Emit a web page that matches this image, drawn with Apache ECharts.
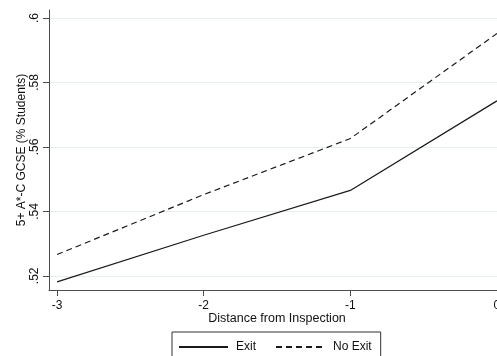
<!DOCTYPE html>
<html>
<head>
<meta charset="utf-8">
<script src="https://cdn.jsdelivr.net/npm/echarts@6/dist/echarts.min.js"></script>
<style>
  html, body { margin: 0; padding: 0; overflow: hidden; background: #fff; width: 497px; height: 356px; }
  #chart { width: 505px; height: 366px; }
</style>
</head>
<body>
<div id="chart"></div>
<script>
// Share of students with 5+ A*-C GCSEs, by years from inspection
const distance = [-3, -2, -1, 0];
const exitShare = [0.5181, 0.5326, 0.5465, 0.5743];
const noExitShare = [0.5266, 0.5452, 0.5626, 0.5952];

const xTicks = [-3, -2, -1, 0];
const yTicks = [0.52, 0.54, 0.56, 0.58, 0.6];
const yTickLabels = ['.52', '.54', '.56', '.58', '.6'];

const FONT = 'Arial, "Liberation Sans", sans-serif';
const AXIS_COLOR = '#4d4d4d';
const LINE_COLOR = '#1a1a1a';

function yLabel(v) {
  const i = yTicks.findIndex(t => Math.abs(t - v) < 1e-9);
  return i >= 0 ? yTickLabels[i] : '';
}

const chart = echarts.init(document.getElementById('chart'), null, { renderer: 'canvas' });

chart.setOption({
  backgroundColor: '#ffffff',
  animation: false,
  textStyle: { fontFamily: FONT },
  grid: { left: 49, right: 0, top: 10, height: 280, containLabel: false },
  xAxis: {
    type: 'value',
    min: -3.055,
    max: 0.055,
    name: 'Distance from Inspection',
    nameLocation: 'middle',
    nameGap: 22,
    nameMoveOverlap: false,
    nameTextStyle: { color: '#111', fontSize: 12.5, fontFamily: FONT },
    axisLine: { show: true, onZero: false, lineStyle: { color: AXIS_COLOR, width: 1 } },
    axisTick: { show: true, length: 6, customValues: xTicks, lineStyle: { color: AXIS_COLOR } },
    axisLabel: { customValues: xTicks, margin: 10, color: '#111', fontSize: 12, fontFamily: FONT,
                 formatter: v => String(v) },
    splitLine: { show: false }
  },
  yAxis: {
    type: 'value',
    min: 0.5156,
    max: 0.6025,
    name: '5+ A*-C GCSE (% Students)',
    nameLocation: 'middle',
    nameRotate: 90,
    nameGap: 21,
    nameMoveOverlap: false,
    nameTextStyle: { color: '#111', fontSize: 12, fontFamily: FONT },
    axisLine: { show: true, onZero: false, lineStyle: { color: AXIS_COLOR, width: 1 } },
    axisTick: { show: true, length: 6, customValues: yTicks, lineStyle: { color: AXIS_COLOR } },
    axisLabel: { customValues: yTicks, rotate: 90, margin: 8, color: '#111', fontSize: 12, fontFamily: FONT,
                 formatter: yLabel },
    splitLine: { show: true, lineStyle: { color: '#e6eef0', width: 1 } }
  },
  legend: {
    show: true,
    left: 172,
    top: 332,
    orient: 'horizontal',
    itemWidth: 49,
    itemHeight: 12,
    itemGap: 19,
    padding: [9, 9, 9, 6],
    borderColor: '#333',
    borderWidth: 1,
    borderRadius: 0,
    selectedMode: false,
    // keep only the line sample in each key, no marker on it
    itemStyle: { color: 'rgba(0,0,0,0)', borderWidth: 0, opacity: 0 },
    textStyle: { color: '#111', fontSize: 12, fontFamily: FONT, padding: [0, 0, 0, 3] },
    data: ['Exit', 'No Exit']
  },
  series: [
    {
      name: 'Exit',
      type: 'line',
      data: distance.map((d, i) => [d, exitShare[i]]),
      showSymbol: false,
      symbol: 'none',
      lineStyle: { color: LINE_COLOR, width: 1.2, type: 'solid' },
      itemStyle: { color: LINE_COLOR },
      clip: true
    },
    {
      name: 'No Exit',
      type: 'line',
      data: distance.map((d, i) => [d, noExitShare[i]]),
      showSymbol: false,
      symbol: 'none',
      lineStyle: { color: LINE_COLOR, width: 1.2, type: [6, 4] },
      itemStyle: { color: LINE_COLOR },
      clip: true
    }
  ]
});
</script>
</body>
</html>
